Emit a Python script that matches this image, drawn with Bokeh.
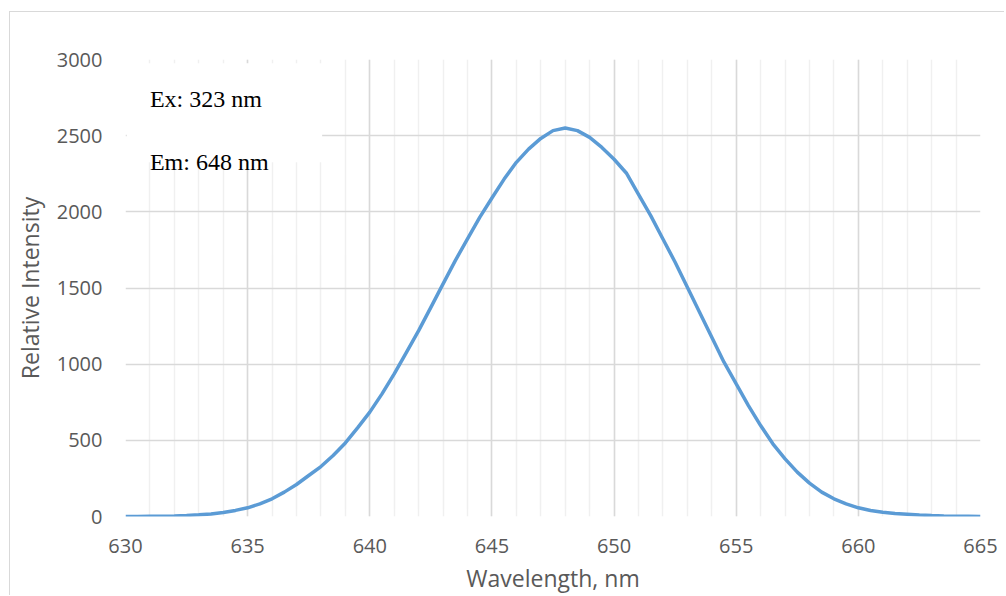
from bokeh.plotting import figure
from bokeh.models import Range1d, SingleIntervalTicker, BoxAnnotation, Label
from bokeh.embed import file_html
from bokeh.resources import INLINE

wavelength = [630, 630.5, 631, 631.5, 632, 632.5, 633, 633.5, 634, 634.5,
              635, 635.5, 636, 636.5, 637, 637.5, 638, 638.5, 639, 639.5,
              640, 640.5, 641, 641.5, 642, 642.5, 643, 643.5, 644, 644.5,
              645, 645.5, 646, 646.5, 647, 647.5, 648, 648.5, 649, 649.5,
              650, 650.5, 651, 651.5, 652, 652.5, 653, 653.5, 654, 654.5,
              655, 655.5, 656, 656.5, 657, 657.5, 658, 658.5, 659, 659.5,
              660, 660.5, 661, 661.5, 662, 662.5, 663, 663.5, 664, 664.5, 665]
intensity = [0, 0, 1, 2, 4, 7, 11, 17, 26, 40,
             57, 83, 116, 160, 210, 269, 328, 400, 483, 582,
             685, 805, 936, 1078, 1220, 1373, 1527, 1680, 1822, 1964,
             2091, 2215, 2325, 2412, 2482, 2533, 2550, 2533, 2489, 2423,
             2345, 2255, 2115, 1975, 1822, 1669, 1505, 1341, 1177, 1013,
             870, 728, 597, 477, 378, 291, 219, 160, 116, 83,
             57, 39, 28, 20, 15, 10, 6, 3, 2, 1, 0]

x_ticks_interval = 5
y_ticks_interval = 500
x_title = "Wavelength, nm"
y_title = "Relative Intensity"
annotation_lines = ["Ex: 323 nm", "Em: 648 nm"]

FONT = "Open Sans"
GRAY = "#595959"

p = figure(width=995, height=584, output_backend="svg", toolbar_location=None,
           x_range=Range1d(630, 665), y_range=Range1d(0, 3000),
           min_border_left=114, min_border_right=25, min_border_top=47,
           min_border_bottom=80)
p.styles = {"margin-left": "9px", "margin-top": "11px",
            "border-left": "1px solid #d9d9d9", "border-top": "1px solid #d9d9d9"}
p.outline_line_color = None
p.background_fill_color = "white"
p.border_fill_color = "white"

p.xaxis.ticker = SingleIntervalTicker(interval=x_ticks_interval, num_minor_ticks=5)
p.yaxis.ticker = SingleIntervalTicker(interval=y_ticks_interval, num_minor_ticks=0)

for ax in (p.xaxis[0], p.yaxis[0]):
    ax.axis_line_color = None
    ax.major_tick_line_color = None
    ax.minor_tick_line_color = None
    ax.major_tick_out = 0
    ax.major_tick_in = 0
    ax.minor_tick_out = 0
    ax.minor_tick_in = 0
    ax.major_label_text_font = FONT
    ax.major_label_text_font_size = "20px"
    ax.major_label_text_color = GRAY
    ax.axis_label_text_font = FONT
    ax.axis_label_text_font_size = "23px"
    ax.axis_label_text_font_style = "normal"
    ax.axis_label_text_color = GRAY

p.xaxis.axis_label = x_title
p.yaxis.axis_label = y_title
p.xaxis.major_label_standoff = 22
p.yaxis.major_label_standoff = 23
p.xaxis.axis_label_standoff = 6
p.yaxis.axis_label_standoff = 8

p.xgrid.grid_line_color = "#d9d9d9"
p.xgrid.grid_line_width = 1.5
p.xgrid.minor_grid_line_color = "#f0f0f0"
p.xgrid.minor_grid_line_width = 1.5
p.ygrid.grid_line_color = "#d9d9d9"
p.ygrid.grid_line_width = 1.5

p.add_layout(BoxAnnotation(left=630.05, right=638.05, bottom=2325, top=2975,
                           fill_color="white", fill_alpha=1.0, line_color=None,
                           level="underlay"))

p.line(wavelength, intensity, line_color="#5b9bd5", line_width=3.5)

for txt, yv in zip(annotation_lines, [2740, 2326]):
    p.add_layout(Label(x=631, y=yv, text=txt, text_font="Liberation Serif",
                       text_font_size="24px", text_color="black",
                       text_baseline="alphabetic"))

open("out.html", "w").write(file_html(p, INLINE))
